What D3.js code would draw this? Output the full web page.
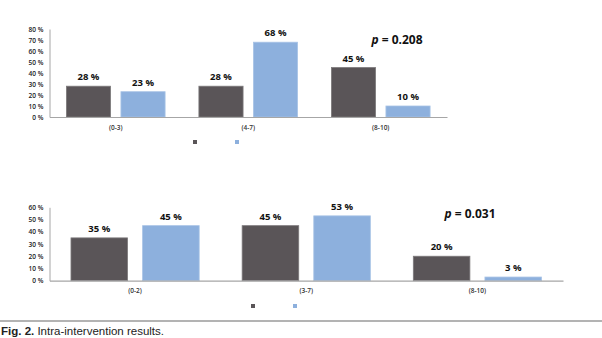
<!DOCTYPE html>
<html>
<head>
<meta charset="utf-8">
<script src="https://cdn.jsdelivr.net/npm/d3@7"></script>
<style>
  html, body { margin: 0; padding: 0; background: #fff; }
  svg { display: block; }
</style>
</head>
<body>
<svg id="chart" width="602" height="338"></svg>
<script>
// Panel 1: score bands, two groups
const categoriesA = ["(0-3)", "(4-7)", "(8-10)"];
const group1A = [28, 28, 45];
const group2A = [23, 68, 10];
const ticksA = [0, 10, 20, 30, 40, 50, 60, 70, 80];
const pValueA = "0.208";

// Panel 2: score bands, two groups
const categoriesB = ["(0-2)", "(3-7)", "(8-10)"];
const group1B = [35, 45, 20];
const group2B = [45, 53, 3];
const ticksB = [0, 10, 20, 30, 40, 50, 60];
const pValueB = "0.031";

const caption = ["Fig. 2.", "Intra-intervention results."];

const colors = ["#5a5558", "#8db0dd"];
const strokes = ["#7d7a7c", "#a9c4e6"];
const axisColor = "#a6a6a6";
const font = "'Open Sans', 'Liberation Sans', sans-serif";

const svg = d3.select("#chart");

function panel(opts) {
  const g = svg.append("g");
  const x = d3.scaleBand().domain(opts.categories).range(opts.xRange).padding(0);
  const sub = d3.scaleBand().domain([0, 1]).range([0, x.bandwidth()])
    .paddingInner(opts.inner).paddingOuter(opts.outer);
  const y = d3.scaleLinear().domain([0, d3.max(opts.ticks)]).range(opts.yRange);

  // y axis: line + percentage labels, no tick marks
  const yAxis = g.append("g")
    .attr("transform", `translate(${opts.xRange[0]},0)`)
    .call(d3.axisLeft(y).tickValues(opts.ticks).tickSize(0).tickPadding(6)
      .tickFormat(d => d + " %"));
  yAxis.select(".domain").attr("stroke", axisColor);
  yAxis.selectAll("text")
    .attr("font-family", font).attr("font-size", 6.6).attr("font-weight", 600)
    .attr("fill", "#222");

  // bars
  const rows = opts.categories.map((c, i) => ({ c, vals: [opts.s1[i], opts.s2[i]] }));
  const grp = g.selectAll("g.cat").data(rows).join("g")
    .attr("class", "cat")
    .attr("transform", d => `translate(${x(d.c)},0)`);
  grp.selectAll("rect").data(d => d.vals.map((v, k) => ({ v, k }))).join("rect")
    .attr("x", d => sub(d.k))
    .attr("width", sub.bandwidth())
    .attr("y", d => y(d.v))
    .attr("height", d => y(0) - y(d.v))
    .attr("fill", d => colors[d.k])
    .attr("stroke", d => strokes[d.k])
    .attr("stroke-width", 0.8);
  grp.selectAll("text.val").data(d => d.vals.map((v, k) => ({ v, k }))).join("text")
    .attr("class", "val")
    .attr("x", d => sub(d.k) + sub.bandwidth() / 2)
    .attr("y", d => y(d.v) - 6)
    .attr("text-anchor", "middle")
    .attr("font-family", font).attr("font-weight", "bold").attr("font-size", 9.5)
    .attr("fill", "#111")
    .text(d => d.v + " %");

  // x axis line + category labels
  const xAxis = g.append("g")
    .attr("transform", `translate(0,${y(0)})`)
    .call(d3.axisBottom(x).tickSize(0).tickPadding(8));
  xAxis.select(".domain").attr("stroke", axisColor).attr("stroke-width", 1.2);
  xAxis.selectAll("text")
    .attr("font-family", font).attr("font-size", 6.5).attr("font-weight", 600)
    .attr("fill", "#333");

  // legend swatches (no labels)
  g.selectAll("rect.leg").data([0, 1]).join("rect")
    .attr("class", "leg")
    .attr("x", k => opts.legendX[k] - 2)
    .attr("y", opts.legendY - 2)
    .attr("width", 4).attr("height", 4)
    .attr("fill", k => colors[k]);

  // p value
  const p = g.append("text")
    .attr("x", opts.pPos[0]).attr("y", opts.pPos[1])
    .attr("text-anchor", "middle")
    .attr("font-family", font).attr("font-weight", "bold").attr("font-size", 12)
    .attr("fill", "#111");
  p.append("tspan").attr("font-style", "italic").text("p");
  p.append("tspan").text(" = " + opts.pValue);
}

panel({
  categories: categoriesA, s1: group1A, s2: group2A, ticks: ticksA, pValue: pValueA,
  xRange: [49.5, 447], yRange: [117, 29], inner: 0.19, outer: 0.31,
  legendX: [195, 237], legendY: 142, pPos: [397, 44]
});

panel({
  categories: categoriesB, s1: group1B, s2: group2B, ticks: ticksB, pValue: pValueB,
  xRange: [49.5, 563], yRange: [280.7, 207.3], inner: 0.21, outer: 0.3,
  legendX: [253, 295], legendY: 306, pPos: [470, 218]
});

// caption rule and caption
svg.append("line")
  .attr("x1", 0).attr("x2", 602).attr("y1", 321).attr("y2", 321)
  .attr("stroke", "#9a9a9a").attr("stroke-width", 1.6);
const cap = svg.append("text")
  .attr("x", 1).attr("y", 335)
  .attr("font-family", "'Liberation Sans', sans-serif").attr("font-size", 11.5)
  .attr("fill", "#222");
cap.append("tspan").attr("font-weight", "bold").text(caption[0]);
cap.append("tspan").text(" " + caption[1]);
</script>
</body>
</html>
